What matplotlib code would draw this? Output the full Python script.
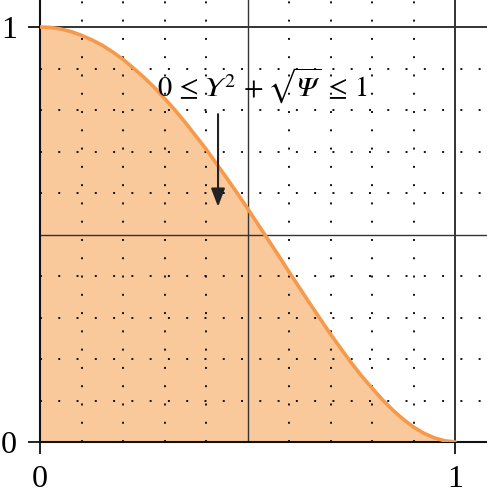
import matplotlib
matplotlib.use("Agg")
import matplotlib.pyplot as plt

# region under the curve  0 <= Y^2 + sqrt(Psi) <= 1
curve_x = [0.0, 0.025, 0.05, 0.075, 0.1, 0.125, 0.15, 0.175, 0.2, 0.225,
           0.25, 0.275, 0.3, 0.325, 0.35, 0.375, 0.4, 0.425, 0.45, 0.475,
           0.5, 0.525, 0.55, 0.575, 0.6, 0.625, 0.65, 0.675, 0.7, 0.725,
           0.75, 0.775, 0.8, 0.825, 0.85, 0.875, 0.9, 0.925, 0.95, 0.975, 1.0]
curve_y = [1.0, 0.999, 0.995, 0.989, 0.980, 0.969, 0.956, 0.940, 0.922, 0.901,
           0.879, 0.855, 0.828, 0.800, 0.770, 0.738, 0.706, 0.671, 0.636, 0.600,
           0.563, 0.525, 0.487, 0.449, 0.410, 0.372, 0.334, 0.297, 0.260, 0.225,
           0.191, 0.159, 0.130, 0.102, 0.077, 0.055, 0.036, 0.021, 0.010, 0.003, 0.0]

tick_vals = [0, 1]
tick_labels = ["0", "1"]
major_grid = [0.5, 1.0]
minor_grid = [0.1, 0.2, 0.3, 0.4, 0.6, 0.7, 0.8, 0.9]

label_text = "$0\\,\\leq\\,\U0001D6F6^{2}\\,+\\sqrt{\U0001D6F9}\\,\\leq\\,1$"
label_pos = (0.537, 0.858)
arrow_start = (0.429, 0.79)
arrow_end = (0.429, 0.567)

plt.rcParams["font.family"] = ["Liberation Serif", "DejaVu Serif"]
plt.rcParams["mathtext.fontset"] = "stix"

fig = plt.figure(figsize=(4.87, 5.0), dpi=100)
ax = fig.add_axes([40 / 487, 58 / 500, 447 / 487, 442 / 500])
ax.set_xlim(0, 447 / 415)
ax.set_ylim(0, 442 / 415)

# shaded region
ax.fill_between(curve_x, curve_y, 0, color="#f9c89b", lw=0, zorder=1)

# dotted minor grid
for v in minor_grid:
    ax.axvline(v, color="#111111", lw=1.4, ls=(0, (1, 8.4)), zorder=2)
    ax.axhline(v, color="#111111", lw=1.4, ls=(0, (1, 8.4)), zorder=2)

# solid major grid
for v in major_grid:
    w = 1.0 if v < 1 else 1.4
    ax.axvline(v, color="#333333", lw=w, zorder=2)
    ax.axhline(v, color="#333333", lw=w, zorder=2)

ax.plot(curve_x, curve_y, color="#f59a4b", lw=2.6, solid_capstyle="round", zorder=3)

ax.annotate("", xy=arrow_end, xytext=arrow_start,
            arrowprops=dict(arrowstyle="-|>,head_length=1.1,head_width=0.42",
                            color="#222222", lw=1.5, shrinkA=0, shrinkB=0),
            zorder=4)
ax.text(*label_pos, label_text, fontsize=20.5, ha="center", va="center", zorder=4)

for side in ["top", "right"]:
    ax.spines[side].set_visible(False)
for side in ["left", "bottom"]:
    ax.spines[side].set_linewidth(1.5)
    ax.spines[side].set_color("#111111")

ax.set_xticks(tick_vals)
ax.set_xticklabels(tick_labels)
ax.set_yticks(tick_vals)
ax.set_yticklabels(tick_labels)
ax.tick_params(length=8.5, width=1.3, pad=8, labelsize=23, color="#111111")

fig.savefig("out.png", dpi=100)
